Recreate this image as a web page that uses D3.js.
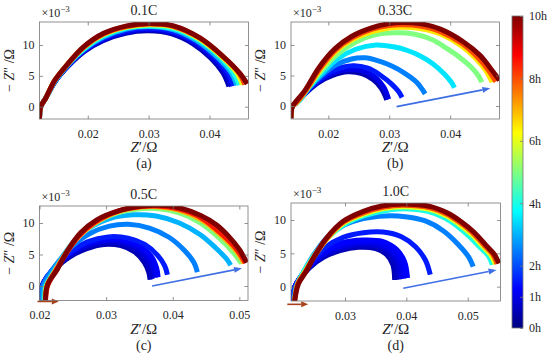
<!doctype html>
<html>
<head>
<meta charset="UTF-8" />
<script src="https://cdn.jsdelivr.net/npm/d3@7"></script>
<style>
  body { margin: 0; background: #fff; }
  text { font-family: "Liberation Serif", "Times New Roman", serif; fill: #262626; }
</style>
</head>
<body>
<svg id="chart" width="550" height="358"></svg>
<script>
(function () {
  "use strict";

  // ---- data ----
  const panelTitles = ["0.1C", "0.33C", "0.5C", "1.0C"];
  const panelLetters = ["(a)", "(b)", "(c)", "(d)"];
  const xTicksA = [0.02, 0.03, 0.04];
  const xTicksB = [0.02, 0.03, 0.04];
  const xTicksC = [0.02, 0.03, 0.04, 0.05];
  const xTicksD = [0.03, 0.04, 0.05];
  const yTicks = [0, 5, 10];
  const colorbarTicks = [0, 1, 2, 4, 6, 8, 10];

  // curves: h = hours (colour), pts = [Z' (ohm), -Z'' (x1e-3 ohm)]
  const curvesA = [
    { h: 0.5, pts: [[0.01207,-2.0],[0.01227,0],[0.0131,1.4],[0.0147,4.2],[0.0168,6.6],[0.0195,9.0],[0.0225,10.7],[0.0262,11.9],[0.0300,12.3],[0.0338,11.8],[0.0373,10.2],[0.0402,7.9],[0.0422,5.5],[0.0432,3.3]] },
    { h: 1, pts: [[0.01207,-2.0],[0.01227,0],[0.0131,1.4],[0.0147,4.2],[0.0168,6.7],[0.0195,9.1],[0.0226,10.9],[0.0263,12.1],[0.0300,12.5],[0.0339,12.0],[0.0375,10.4],[0.0405,8.0],[0.0426,5.6],[0.0436,3.3]] },
    { h: 1.5, pts: [[0.01207,-2.0],[0.01227,0],[0.0131,1.4],[0.0147,4.2],[0.0168,6.7],[0.0195,9.2],[0.0226,11.1],[0.0263,12.3],[0.0300,12.7],[0.0339,12.2],[0.0377,10.5],[0.0408,8.1],[0.0430,5.6],[0.0440,3.4]] },
    { h: 3, pts: [[0.01207,-2.0],[0.01227,0],[0.0131,1.4],[0.0147,4.3],[0.0167,6.8],[0.0194,9.3],[0.0226,11.3],[0.0263,12.6],[0.0300,13.0],[0.0340,12.5],[0.0379,10.7],[0.0412,8.1],[0.0435,5.6],[0.0445,3.5]] },
    { h: 4, pts: [[0.01207,-2.0],[0.01227,0],[0.0131,1.4],[0.0147,4.3],[0.0167,6.8],[0.0194,9.4],[0.0226,11.5],[0.0264,12.8],[0.0300,13.1],[0.0340,12.7],[0.0381,10.9],[0.0416,8.2],[0.0439,5.6],[0.0449,3.5]] },
    { h: 6, pts: [[0.01207,-2.0],[0.01227,0],[0.0131,1.4],[0.0146,4.3],[0.0166,6.8],[0.0193,9.6],[0.0226,11.7],[0.0264,12.9],[0.0300,13.3],[0.0341,12.9],[0.0383,11.0],[0.0419,8.2],[0.0444,5.6],[0.0454,3.6]] },
    { h: 8, pts: [[0.01207,-2.0],[0.01227,0],[0.0131,1.4],[0.0146,4.3],[0.0166,6.8],[0.0193,9.6],[0.0226,11.8],[0.0264,13.0],[0.0300,13.4],[0.0341,13.0],[0.0384,11.1],[0.0421,8.2],[0.0448,5.5],[0.0458,3.6]] },
    { h: 10, pts: [[0.01207,-2.0],[0.01227,0],[0.0131,1.4],[0.0146,4.3],[0.0166,6.8],[0.0193,9.7],[0.0226,11.9],[0.0264,13.1],[0.0300,13.5],[0.0341,13.1],[0.0385,11.1],[0.0423,8.1],[0.0450,5.4],[0.0462,3.7]] }
  ];

  const curvesB = [
    { h: 0.5, pts: [[0.01386,-2.0],[0.01408,-0.1],[0.0150,0.8],[0.0166,2.4],[0.0185,3.9],[0.0207,5.0],[0.0232,5.6],[0.0255,5.3],[0.0274,4.3],[0.0287,2.9],[0.0296,1.0]] },
    { h: 1, pts: [[0.01386,-2.0],[0.01408,-0.1],[0.0150,0.8],[0.0166,2.5],[0.0185,4.1],[0.0207,5.4],[0.0234,6.0],[0.0258,5.7],[0.0278,4.6],[0.0291,3.1],[0.0299,1.1]] },
    { h: 1.5, pts: [[0.01386,-2.0],[0.01408,-0.1],[0.0150,0.8],[0.0166,2.6],[0.0186,4.4],[0.0210,5.9],[0.0240,6.6],[0.0265,6.2],[0.0286,5.0],[0.0304,3.6],[0.0315,2.4],[0.0321,1.4]] },
    { h: 2.5, pts: [[0.01386,-2.0],[0.01408,-0.1],[0.0151,0.8],[0.0167,2.8],[0.0188,4.9],[0.0212,6.7],[0.0238,7.7],[0.0260,7.9],[0.0285,7.3],[0.0305,6.5],[0.0325,5.4],[0.0345,3.9],[0.0359,2.0]] },
    { h: 3.5, pts: [[0.01386,-2.0],[0.01408,-0.1],[0.0152,0.8],[0.0168,3.0],[0.0190,5.4],[0.0215,7.7],[0.0245,9.3],[0.0278,10.0],[0.0307,9.7],[0.0330,9.1],[0.0351,8.2],[0.0372,6.9],[0.0390,5.3],[0.0402,3.9],[0.0407,3.0]] },
    { h: 5, pts: [[0.01386,-2.0],[0.01408,-0.1],[0.0150,0.7],[0.0167,3.0],[0.0189,5.8],[0.0214,8.4],[0.0245,10.5],[0.0278,11.7],[0.0310,12.0],[0.0340,11.8],[0.0370,10.9],[0.0395,9.4],[0.0418,7.8],[0.0433,6.5],[0.0446,5.0],[0.0452,3.9]] },
    { h: 6.5, pts: [[0.01386,-2.0],[0.01408,-0.1],[0.0148,0.6],[0.0165,2.8],[0.0187,6.0],[0.0213,9.0],[0.0242,11.0],[0.0273,12.2],[0.0300,12.8],[0.0321,12.9],[0.0350,12.7],[0.0384,11.8],[0.0418,9.9],[0.0442,7.8],[0.0458,5.9],[0.0469,3.9]] },
    { h: 8, pts: [[0.01386,-2.0],[0.01408,-0.1],[0.0147,0.5],[0.0164,2.7],[0.0186,6.1],[0.0212,9.2],[0.0240,11.2],[0.0272,12.6],[0.0300,13.2],[0.0321,13.3],[0.0350,13.1],[0.0384,12.2],[0.0420,10.2],[0.0445,8.0],[0.0462,6.0],[0.0475,4.0]] },
    { h: 10, pts: [[0.01386,-2.0],[0.01408,-0.1],[0.0145,0.5],[0.0162,2.6],[0.0184,6.2],[0.0211,9.4],[0.0238,11.4],[0.0271,12.8],[0.0300,13.5],[0.0321,13.7],[0.0350,13.5],[0.0384,12.6],[0.0422,10.5],[0.0449,8.3],[0.0466,6.2],[0.0481,4.2]] }
  ];

  const curvesC = [
    { h: 0.5, pts: [[0.02015,-2.3],[0.0204,0],[0.0211,1.3],[0.0225,2.9],[0.0245,4.6],[0.0270,5.9],[0.0297,6.6],[0.0322,6.4],[0.0343,5.4],[0.0357,3.8],[0.0364,2.2],[0.0366,1.0]] },
    { h: 0.75, pts: [[0.02015,-2.3],[0.0204,0],[0.0211,1.4],[0.0225,3.0],[0.0245,4.8],[0.0270,6.2],[0.0298,6.9],[0.0324,6.7],[0.0346,5.7],[0.0360,4.1],[0.0367,2.4],[0.0369,1.1]] },
    { h: 1, pts: [[0.02015,-2.3],[0.0204,0],[0.0211,1.4],[0.0225,3.1],[0.0245,5.0],[0.0270,6.5],[0.0299,7.2],[0.0326,7.0],[0.0349,6.0],[0.0364,4.4],[0.0372,2.6],[0.0374,1.3]] },
    { h: 1.25, pts: [[0.02015,-2.3],[0.0204,0],[0.0211,1.4],[0.0225,3.2],[0.0245,5.2],[0.0271,6.8],[0.0300,7.5],[0.0328,7.3],[0.0352,6.3],[0.0368,4.7],[0.0376,2.8],[0.0378,1.4]] },
    { h: 1.5, pts: [[0.02015,-2.3],[0.0204,0],[0.0212,1.5],[0.0226,3.4],[0.0246,5.4],[0.0272,7.0],[0.0303,7.8],[0.0333,7.6],[0.0358,6.6],[0.0377,4.9],[0.0388,3.2],[0.0392,1.8]] },
    { h: 2.5, pts: [[0.02015,-2.3],[0.0205,0],[0.0213,1.6],[0.0228,3.8],[0.0248,6.2],[0.0275,8.3],[0.0305,9.5],[0.0333,9.8],[0.0365,9.2],[0.0395,7.7],[0.0418,5.6],[0.0432,3.7],[0.0437,2.2]] },
    { h: 3, pts: [[0.0206,-2.3],[0.0208,0],[0.0216,1.5],[0.0230,3.9],[0.0248,6.6],[0.0272,9.0],[0.0305,10.7],[0.0340,11.3],[0.0375,11.1],[0.0410,10.0],[0.0442,8.1],[0.0465,6.0],[0.0480,4.4],[0.0487,3.3]] },
    { h: 5, pts: [[0.0208,-2.3],[0.0210,0],[0.0219,1.7],[0.0233,4.1],[0.0250,6.8],[0.0275,9.3],[0.0308,11.3],[0.0345,12.2],[0.0375,12.3],[0.0410,11.6],[0.0442,10.0],[0.0470,7.6],[0.0491,5.3],[0.0503,3.6]] },
    { h: 7, pts: [[0.0209,-2.3],[0.0211,0],[0.0221,1.9],[0.0236,4.6],[0.0254,7.3],[0.0280,9.8],[0.0315,11.7],[0.0350,12.5],[0.0375,12.6],[0.0410,12.0],[0.0443,10.5],[0.0473,8.0],[0.0495,5.6],[0.0507,3.6]] },
    { h: 8.5, pts: [[0.0209,-2.3],[0.0212,0],[0.0223,2.2],[0.0239,5.0],[0.0258,7.8],[0.0283,10.1],[0.0318,11.9],[0.0353,12.6],[0.0375,12.7],[0.0410,12.2],[0.0443,10.8],[0.0475,8.1],[0.0497,5.7],[0.0509,3.7]] },
    { h: 10, pts: [[0.0209,-2.3],[0.0212,0.2],[0.02265,2.6],[0.02415,5.5],[0.02614,8.4],[0.0286,10.5],[0.0321,12.0],[0.0355,12.7],[0.0378,12.8],[0.0410,12.4],[0.0442,11.2],[0.0466,9.7],[0.0483,8.0],[0.0500,5.8],[0.0511,3.7]] }
  ];

  const curvesD = [
    { h: 0.5, pts: [[0.02158,-2.1],[0.02185,0],[0.0227,1.2],[0.0243,2.9],[0.0265,4.4],[0.0292,5.4],[0.0322,5.9],[0.0350,5.7],[0.0368,4.8],[0.0378,3.3],[0.0381,1.0]] },
    { h: 0.65, pts: [[0.02158,-2.1],[0.02185,0],[0.0227,1.25],[0.0243,3.0],[0.0265,4.55],[0.0292,5.6],[0.0323,6.1],[0.0352,5.9],[0.0371,5.0],[0.0381,3.4],[0.0384,1.05]] },
    { h: 0.8, pts: [[0.02158,-2.1],[0.02185,0],[0.0227,1.3],[0.0243,3.1],[0.0265,4.7],[0.0293,5.8],[0.0324,6.3],[0.0354,6.1],[0.0374,5.1],[0.0385,3.5],[0.0389,1.1]] },
    { h: 0.95, pts: [[0.02158,-2.1],[0.02185,0],[0.0227,1.3],[0.0243,3.15],[0.0265,4.85],[0.0294,6.0],[0.0325,6.5],[0.0356,6.3],[0.0376,5.25],[0.0388,3.6],[0.0392,1.15]] },
    { h: 1.1, pts: [[0.02158,-2.1],[0.02185,0],[0.0227,1.35],[0.0243,3.2],[0.0265,5.0],[0.0295,6.2],[0.0327,6.7],[0.0358,6.5],[0.0379,5.4],[0.0392,3.7],[0.0396,1.2]] },
    { h: 1.25, pts: [[0.02158,-2.1],[0.02185,0],[0.0227,1.4],[0.0244,3.4],[0.0266,5.3],[0.0296,6.6],[0.0329,7.0],[0.0361,6.8],[0.0384,5.6],[0.0397,3.8],[0.0402,1.3]] },
    { h: 1.5, pts: [[0.02158,-2.1],[0.0219,0],[0.0228,1.5],[0.0246,3.8],[0.0268,5.9],[0.0297,7.4],[0.0330,8.1],[0.0362,8.2],[0.0392,7.5],[0.0415,6.0],[0.0431,4.0],[0.0439,1.8]] },
    { h: 2.5, pts: [[0.0217,-2.1],[0.0220,0],[0.0230,1.8],[0.0247,4.5],[0.0270,7.3],[0.0298,9.2],[0.0330,10.2],[0.0365,10.6],[0.0398,10.5],[0.0430,9.9],[0.0460,8.4],[0.0485,6.3],[0.0502,4.4],[0.0509,3.0]] },
    { h: 4, pts: [[0.0218,-2.15],[0.0222,0.3],[0.0233,2.3],[0.0250,4.8],[0.0272,7.3],[0.0300,9.4],[0.0333,10.7],[0.0365,11.4],[0.0395,11.7],[0.0435,11.3],[0.0463,10.3],[0.0484,9.0],[0.0503,7.5],[0.0521,5.8],[0.0534,4.6],[0.0540,3.3]] },
    { h: 6, pts: [[0.0218,-2.15],[0.0223,0.4],[0.0235,2.3],[0.0251,4.7],[0.0272,7.3],[0.0299,9.6],[0.0332,10.9],[0.0363,11.7],[0.0395,12.0],[0.0438,11.6],[0.0466,10.6],[0.0487,9.3],[0.0507,7.8],[0.0525,6.0],[0.0538,4.7],[0.0545,3.4]] },
    { h: 8, pts: [[0.0218,-2.15],[0.0223,0.4],[0.0235,2.2],[0.0250,4.6],[0.0271,7.3],[0.0298,9.7],[0.0331,11.1],[0.0362,11.9],[0.0395,12.2],[0.0440,11.8],[0.0468,10.8],[0.0489,9.5],[0.0509,8.0],[0.0528,6.1],[0.0541,4.8],[0.0548,3.4]] },
    { h: 10, pts: [[0.0218,-2.15],[0.0224,0.4],[0.0236,2.2],[0.0250,4.5],[0.0270,7.3],[0.0297,9.8],[0.0330,11.3],[0.0360,12.1],[0.0395,12.4],[0.0440,12.0],[0.0468,11.0],[0.0490,9.7],[0.0510,8.2],[0.0530,6.2],[0.0543,4.9],[0.0551,3.5]] }
  ];

  // arrows: [[from], [to]] in data units
  const blueArrows = [null, [[0.0312,-0.1],[0.0466,2.9]], [[0.0369,0.0],[0.0504,2.8]], [[0.0395,-0.25],[0.0547,2.5]]];
  const brownArrows = [null, null, [[0.0197,-2.45],[0.0229,-2.45]], [[0.0206,-2.65],[0.0240,-2.65]]];

  // ---- layout ----
  const panels = [
    { left: 39.5, top: 22, w: 209, h: 97, xd: [0.01207, 0.04641], yd: [-1.99, 13.73], xt: xTicksA, curves: curvesA },
    { left: 291, top: 22, w: 208.5, h: 97, xd: [0.01387, 0.0481], yd: [-2.13, 13.77], xt: xTicksB, curves: curvesB },
    { left: 39.5, top: 206, w: 208.5, h: 94.5, xd: [0.0200, 0.0513], yd: [-2.3, 12.7], xt: xTicksC, curves: curvesC },
    { left: 291, top: 203, w: 209.5, h: 98, xd: [0.0212, 0.05535], yd: [-2.15, 12.55], xt: xTicksD, curves: curvesD }
  ];

  const svg = d3.select("#chart");
  const boxColor = "#777";

  function jet(t) {
    const c = v => Math.max(0, Math.min(1, v));
    return d3.rgb(255 * c(1.5 - Math.abs(4 * t - 3)), 255 * c(1.5 - Math.abs(4 * t - 2)), 255 * c(1.5 - Math.abs(4 * t - 1))).toString();
  }

  function styleAxis(sel, showText) {
    sel.select(".domain").remove();
    sel.selectAll(".tick line").attr("stroke", boxColor).attr("stroke-width", 0.8);
    sel.selectAll(".tick text")
      .attr("font-family", "Liberation Serif, serif")
      .attr("font-size", 12)
      .attr("fill", "#262626")
      .style("display", showText ? null : "none");
    sel.attr("font-family", null).attr("font-size", null);
  }

  function drawArrow(g, x, y, a, color, width, headLen, headW) {
    const x1 = x(a[0][0]), y1 = y(a[0][1]), x2 = x(a[1][0]), y2 = y(a[1][1]);
    const ang = Math.atan2(y2 - y1, x2 - x1);
    const bx = x2 - headLen * Math.cos(ang), by = y2 - headLen * Math.sin(ang);
    g.append("line")
      .attr("x1", x1).attr("y1", y1).attr("x2", bx).attr("y2", by)
      .attr("stroke", color).attr("stroke-width", width);
    const px = -Math.sin(ang) * headW / 2, py = Math.cos(ang) * headW / 2;
    g.append("path")
      .attr("d", `M${x2},${y2}L${bx + px},${by + py}L${bx - px},${by - py}Z`)
      .attr("fill", color);
  }

  panels.forEach(function (P, i) {
    const g = svg.append("g").attr("transform", `translate(${P.left},${P.top})`);
    const x = d3.scaleLinear().domain(P.xd).range([0, P.w]);
    const y = d3.scaleLinear().domain(P.yd).range([P.h, 0]);

    g.append("clipPath").attr("id", "clip" + i)
      .append("rect").attr("width", P.w).attr("height", P.h);

    const line = d3.line()
      .x(d => x(d[0]))
      .y(d => y(d[1]))
      .curve(d3.curveCatmullRom.alpha(0.5));

    g.append("g").attr("clip-path", `url(#clip${i})`)
      .selectAll("path")
      .data(P.curves)
      .enter().append("path")
      .attr("d", d => line(d.pts))
      .attr("fill", "none")
      .attr("stroke", d => jet(d.h / 10))
      .attr("stroke-width", 5)
      .attr("stroke-linejoin", "round");

    if (blueArrows[i]) drawArrow(g, x, y, blueArrows[i], "#3f6fe3", 1.6, 8, 6);
    if (brownArrows[i]) drawArrow(g, x, y, brownArrows[i], "#a8401a", 1.6, 7, 6);

    // axes, MATLAB style: ticks inside, on all sides
    g.append("g").attr("transform", `translate(0,${P.h})`)
      .call(d3.axisBottom(x).tickValues(P.xt).tickSizeInner(-3.5).tickSizeOuter(0).tickPadding(10).tickFormat(d3.format(".2f")))
      .call(s => styleAxis(s, true));
    g.append("g")
      .call(d3.axisTop(x).tickValues(P.xt).tickSizeInner(-3.5).tickSizeOuter(0).tickFormat(""))
      .call(s => styleAxis(s, false));
    g.append("g")
      .call(d3.axisLeft(y).tickValues(yTicks).tickSizeInner(-3.5).tickSizeOuter(0).tickPadding(5).tickFormat(d3.format("d")))
      .call(s => styleAxis(s, true));
    g.append("g").attr("transform", `translate(${P.w},0)`)
      .call(d3.axisRight(y).tickValues(yTicks).tickSizeInner(-3.5).tickSizeOuter(0).tickFormat(""))
      .call(s => styleAxis(s, false));

    g.append("rect")
      .attr("width", P.w).attr("height", P.h)
      .attr("fill", "none").attr("stroke", boxColor).attr("stroke-width", 0.8);

    // exponent label
    const ex = g.append("text").attr("x", 2).attr("y", -5).attr("font-size", 12);
    ex.append("tspan").text("×10");
    ex.append("tspan").attr("dy", -5).attr("font-size", 9).text("−3");

    // title
    g.append("text")
      .attr("x", P.w / 2).attr("y", -7)
      .attr("text-anchor", "middle").attr("font-size", 14)
      .text(panelTitles[i]);

    // x label
    const xl = g.append("text")
      .attr("x", P.w / 2).attr("y", P.h + 33)
      .attr("text-anchor", "middle").attr("font-size", 15);
    xl.append("tspan").attr("font-style", "italic").text("Z");
    xl.append("tspan").text("′/Ω");

    g.append("text")
      .attr("x", P.w / 2).attr("y", P.h + 49)
      .attr("text-anchor", "middle").attr("font-size", 14)
      .text(panelLetters[i]);

    // y label
    const yl = g.append("text")
      .attr("transform", `translate(-26,${P.h / 2}) rotate(-90)`)
      .attr("text-anchor", "middle").attr("font-size", 14);
    yl.append("tspan").text("− ");
    yl.append("tspan").attr("font-style", "italic").text("Z");
    yl.append("tspan").text("″ /Ω");
  });

  // ---- colorbar ----
  const cb = { left: 512, top: 16, w: 11, h: 312 };
  const defs = svg.append("defs");
  const grad = defs.append("linearGradient").attr("id", "jetGrad")
    .attr("x1", 0).attr("y1", 1).attr("x2", 0).attr("y2", 0);
  [0, 0.125, 0.375, 0.625, 0.875, 1].forEach(t => {
    grad.append("stop").attr("offset", t).attr("stop-color", jet(t));
  });

  const cg = svg.append("g").attr("transform", `translate(${cb.left},${cb.top})`);
  cg.append("rect").attr("width", cb.w).attr("height", cb.h).attr("fill", "url(#jetGrad)");
  const cScale = d3.scaleLinear().domain([0, 10]).range([cb.h, 0]);
  cg.append("g").attr("transform", `translate(${cb.w},0)`)
    .call(d3.axisRight(cScale).tickValues(colorbarTicks).tickSizeInner(-3).tickSizeOuter(0).tickPadding(6).tickFormat(d => d + "h"))
    .call(s => styleAxis(s, true));
  cg.append("rect").attr("width", cb.w).attr("height", cb.h)
    .attr("fill", "none").attr("stroke", boxColor).attr("stroke-width", 0.8);
})();
</script>
</body>
</html>
